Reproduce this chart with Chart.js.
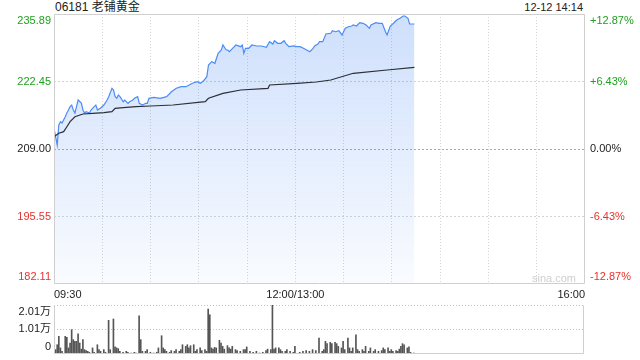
<!DOCTYPE html>
<html>
<head>
<meta charset="utf-8">
<script src="https://cdn.jsdelivr.net/npm/chart.js@4.4.1/dist/chart.umd.min.js"></script>
<style>
  html, body { margin: 0; padding: 0; background: #fff; }
  body { width: 640px; height: 360px; position: relative; overflow: hidden;
         font-family: "Liberation Sans", Arial, "Noto Sans CJK SC", sans-serif; }
  #mainChart { position: absolute; left: 0; top: 0; }
  #volChart  { position: absolute; left: 0; top: 296px; }
  .title { position: absolute; left: 55px; top: 0; height: 15px; line-height: 15px; font-size: 12px; color: #222; }
  .stamp { position: absolute; right: 57px; top: 0; height: 15px; line-height: 15px; font-size: 11px; color: #222; }
  .mark  { position: absolute; left: 532px; top: 272px; font-size: 11px; color: #cfcfcf; }
</style>
</head>
<body>
<div class="title">06181 老铺黄金</div>
<div class="stamp">12-12 14:14</div>
<canvas id="mainChart" width="640" height="300"></canvas>
<canvas id="volChart" width="640" height="64"></canvas>
<div class="mark">sina.com</div>
<script>
// ─── DATA ──────────────────────────────────────────────────────────
// minutes of trading since 09:30 (12:00 and 13:00 share minute 150)
const priceMins = [0,2,3,4,5,7,8,9,10,11,12,13,14,15,17,18,19,20,22,23,25,26,27,29,31,33,34,36,37,38,39,40,41,43,44,46,47,49,50,52,53,55,57,58,59,62,66,70,73,76,79,82,86,89,91,93,95,96,98,100,102,104,105,107,108,109,111,113,116,117,118,119,121,123,126,129,132,134,136,137,139,141,143,144,146,149,151,153,155,157,159,161,162,164,165,167,169,172,173,175,177,179,181,183,185,186,188,190,192,194,196,197,200,202,204,206,207,209,211,213,215,217,218,220,221,223,224];
const prices    = [213.12,209.80,213.78,214.44,214.18,215.43,216.17,216.77,217.43,217.76,216.77,216.17,217.43,218.76,218.16,216.77,216.17,216.43,216.17,216.77,217.43,217.76,216.77,217.17,217.76,218.76,219.42,221.09,220.75,219.42,219.10,219.76,219.42,218.42,218.76,218.10,218.42,218.76,219.10,219.42,218.10,217.76,218.10,218.10,219.10,219.30,219.10,219.42,220.41,221.09,221.41,221.41,222.09,222.40,222.09,222.60,223.40,225.73,226.39,226.07,228.06,228.72,229.72,228.72,228.72,228.38,229.06,229.72,229.38,229.72,228.06,229.06,229.06,229.72,229.52,229.52,229.26,230.37,229.91,230.57,230.05,230.05,230.57,230.05,229.38,229.52,229.38,229.38,229.06,228.72,228.38,229.06,229.52,229.91,230.37,230.37,231.91,232.05,232.56,232.36,232.56,231.71,233.04,233.36,233.50,233.70,233.50,234.16,234.04,233.70,233.04,233.70,234.16,234.04,234.04,232.36,231.71,233.50,234.04,234.69,235.03,235.49,235.49,235.03,233.90,233.90,233.90];

const avgMins = [0,3,6,8,10,13,18,24,31,36,38,43,51,60,74,94,96,105,116,133,134,151,163,172,186,207,224];
const avgVals = [211.45,212.13,212.45,213.44,214.44,215.43,215.97,216.11,216.23,216.43,217.11,217.23,217.43,217.56,217.76,218.42,219.10,220.09,220.75,221.09,221.75,222.09,222.35,222.74,224.08,224.74,225.27];

const volMins = [1,2,3,4,5,7,8,9,10,11,12,13,14,15,16,17,18,19,20,21,22,24,25,27,28,29,31,32,34,35,37,38,39,40,41,43,45,46,48,50,51,53,54,55,57,58,60,62,64,65,67,68,69,70,72,73,75,76,78,79,80,82,83,84,85,87,88,89,91,92,94,95,96,97,98,99,100,101,103,104,105,106,108,109,110,111,113,114,116,118,119,120,122,124,126,128,130,132,133,135,136,137,138,140,141,142,144,145,147,149,150,153,155,157,159,161,163,165,167,168,169,170,172,173,175,176,177,179,180,181,183,184,185,186,188,189,190,192,193,194,196,197,199,200,202,204,205,206,208,209,210,211,213,214,215,216,217,218,220,221,222,224];
const volumes = [1800,3800,7250,2500,1100,7250,6800,2500,4500,10000,5900,5200,5200,8300,4500,2000,5900,1800,1400,1100,700,2500,700,3800,1800,1100,1800,700,13800,1800,14350,2900,2500,2200,1100,700,1100,700,400,700,400,15700,5900,1100,1100,1800,700,400,700,2500,7500,2500,1800,1100,700,1400,1100,1800,1100,1800,3800,3150,3800,2500,3400,3800,1100,1800,2500,1400,1800,1100,18450,16100,2500,2000,2700,2500,5600,4500,3150,2000,3400,2500,2000,3150,1800,1400,1100,1800,1800,2900,1100,700,1100,400,700,1400,2000,1800,20100,2000,2500,2500,1800,1100,1100,1800,1100,700,3150,700,1100,1400,1100,1800,1400,6550,1100,1800,5200,4250,4800,4250,4800,4250,3150,2500,5200,1800,6550,2500,1100,2500,7900,1800,1100,1800,1100,3150,1100,2500,1100,1800,1100,1400,2500,1800,2500,1100,1800,1100,1400,1100,2000,3150,4250,3800,2500,2900,700,400];

const priceTicks = [182.11, 195.55, 209.00, 222.45, 235.89];
const priceLabels = ['182.11', '195.55', '209.00', '222.45', '235.89'];
const pctLabels = ['-12.87%', '-6.43%', '0.00%', '+6.43%', '+12.87%'];
const prevClose = 209.00;
const timeTicks = [0, 150, 330];
const timeLabels = ['09:30', '12:00/13:00', '16:00'];
const volTicks = [0, 10100, 20100];
const volLabels = ['0', '1.01万', '2.01万'];

// ─── HELPERS ───────────────────────────────────────────────────────
const FONT = { family: '"Liberation Sans", Arial, "Noto Sans CJK SC", sans-serif', size: 11 };
const UP = '#1fa01f', DOWN = '#e8312b', FLAT = '#222';

function edgeLabel(text, index, count) {
    // keep the first / last label inside the plot frame
    if (index === count - 1) return ['', text];
    if (index === 0) return [text, ''];
    return text;
}

function fixY(width) {
    return ax => { ax.width = width; ax.paddingTop = 0; ax.paddingBottom = 0; };
}

function priceColor(v) {
    if (v > prevClose + 0.001) return UP;
    if (v < prevClose - 0.001) return DOWN;
    return FLAT;
}

const framePlugin = {
    id: 'frame',
    afterDraw(chart, args, opts) {
        const a = chart.chartArea, ctx = chart.ctx;
        const l = Math.round(a.left) + 0.5, r = Math.round(a.right) - 0.5;
        const t = Math.round(a.top) + 0.5, b = Math.round(a.bottom) - 0.5;
        ctx.save();
        ctx.strokeStyle = '#cfcfcf';
        ctx.lineWidth = 1;
        ctx.beginPath();
        if (opts.top !== false) { ctx.moveTo(l, t); ctx.lineTo(r, t); }
        ctx.moveTo(r, t); ctx.lineTo(r, b);
        ctx.lineTo(l, b);
        ctx.lineTo(l, t);
        ctx.stroke();
        ctx.restore();
    }
};

function fillGradient(ctx) {
    const area = ctx.chart.chartArea;
    if (!area) return 'rgba(74,138,244,0.15)';
    const g = ctx.chart.ctx.createLinearGradient(0, area.top, 0, area.bottom);
    g.addColorStop(0, 'rgba(74,138,244,0.27)');
    g.addColorStop(1, 'rgba(74,138,244,0.03)');
    return g;
}

// ─── MAIN PRICE CHART ──────────────────────────────────────────────
new Chart(document.getElementById('mainChart'), {
    type: 'line',
    data: {
        datasets: [
            {
                data: avgMins.map((m, i) => ({ x: m, y: avgVals[i] })),
                borderColor: '#2b2f36', borderWidth: 1.2, pointRadius: 0, tension: 0, fill: false
            },
            {
                data: priceMins.map((m, i) => ({ x: m, y: prices[i] })),
                borderColor: '#4c8cf5', borderWidth: 1.2, pointRadius: 0, tension: 0,
                fill: 'start', backgroundColor: fillGradient
            }
        ]
    },
    options: {
        responsive: false, animation: false, devicePixelRatio: 1,
        layout: { autoPadding: false, padding: { top: 14, left: 0, right: 0, bottom: 0 } },
        plugins: { legend: { display: false }, tooltip: { enabled: false }, frame: {} },
        scales: {
            x: {
                type: 'linear', min: 0, max: 330, position: 'bottom',
                grid: { display: false, drawTicks: false }, border: { display: false },
                afterBuildTicks: ax => { ax.ticks = timeTicks.map(v => ({ value: v })); },
                afterFit: ax => { ax.height = 16; ax.paddingLeft = 0; ax.paddingRight = 0; },
                ticks: {
                    align: 'inner', autoSkip: false, maxRotation: 0, padding: 4,
                    font: FONT, color: '#222',
                    callback: (v, i) => timeLabels[i]
                }
            },
            xg: {
                type: 'linear', min: 0, max: 330, position: 'bottom',
                afterFit: ax => { ax.height = 0; ax.paddingLeft = 0; ax.paddingRight = 0; },
                ticks: { display: false, stepSize: 30 },
                grid: {
                    drawTicks: false, lineWidth: 1,
                    color: c => (c.tick && (c.tick.value === 0 || c.tick.value === 330)) ? 'rgba(0,0,0,0)' : '#d4d4d4'
                },
                border: { display: false, dash: [1, 2] }
            },
            y: {
                type: 'linear', position: 'left', min: priceTicks[0], max: priceTicks[priceTicks.length - 1],
                afterBuildTicks: ax => { ax.ticks = priceTicks.map(v => ({ value: v })); },
                afterFit: fixY(54),
                grid: {
                    drawTicks: false,
                    color: c => {
                        const v = c.tick ? c.tick.value : 0;
                        if (v === priceTicks[0] || v === priceTicks[priceTicks.length - 1]) return 'rgba(0,0,0,0)';
                        return v === prevClose ? '#a8a8a8' : '#d4d4d4';
                    }
                },
                border: { display: false, dash: [2, 2] },
                ticks: {
                    autoSkip: false, padding: 3, font: FONT,
                    color: c => priceColor(c.tick.value),
                    callback: (v, i) => edgeLabel(priceLabels[i], i, priceLabels.length)
                }
            },
            y2: {
                type: 'linear', position: 'right', min: priceTicks[0], max: priceTicks[priceTicks.length - 1],
                afterBuildTicks: ax => { ax.ticks = priceTicks.map(v => ({ value: v })); },
                afterFit: fixY(55),
                grid: { display: false, drawTicks: false }, border: { display: false },
                ticks: {
                    autoSkip: false, padding: 5, font: FONT,
                    color: c => priceColor(c.tick.value),
                    callback: (v, i) => edgeLabel(pctLabels[i], i, pctLabels.length)
                }
            }
        }
    },
    plugins: [framePlugin]
});

// ─── VOLUME CHART ──────────────────────────────────────────────────
new Chart(document.getElementById('volChart'), {
    type: 'bar',
    data: {
        datasets: [{
            data: volMins.map((m, i) => ({ x: m, y: volumes[i] })),
            backgroundColor: '#555', barThickness: 1, borderWidth: 0
        }]
    },
    options: {
        responsive: false, animation: false, devicePixelRatio: 1,
        layout: { autoPadding: false, padding: { top: 9, left: 0, right: 56, bottom: 6 } },
        plugins: { legend: { display: false }, tooltip: { enabled: false }, frame: { top: false } },
        scales: {
            x: { type: 'linear', min: 0, max: 330, display: false, offset: false },
            y: {
                type: 'linear', min: 0, max: volTicks[volTicks.length - 1],
                afterBuildTicks: ax => { ax.ticks = volTicks.map(v => ({ value: v })); },
                afterFit: fixY(54),
                grid: {
                    drawTicks: false,
                    color: c => (c.tick && c.tick.value === 0) ? 'rgba(0,0,0,0)' : '#c4c4c4'
                },
                border: { display: false, dash: [1, 2] },
                ticks: {
                    autoSkip: false, padding: 3, font: FONT, color: '#222',
                    callback: (v, i) => edgeLabel(volLabels[i], i, volLabels.length)
                }
            }
        }
    },
    plugins: [framePlugin]
});
</script>
</body>
</html>
